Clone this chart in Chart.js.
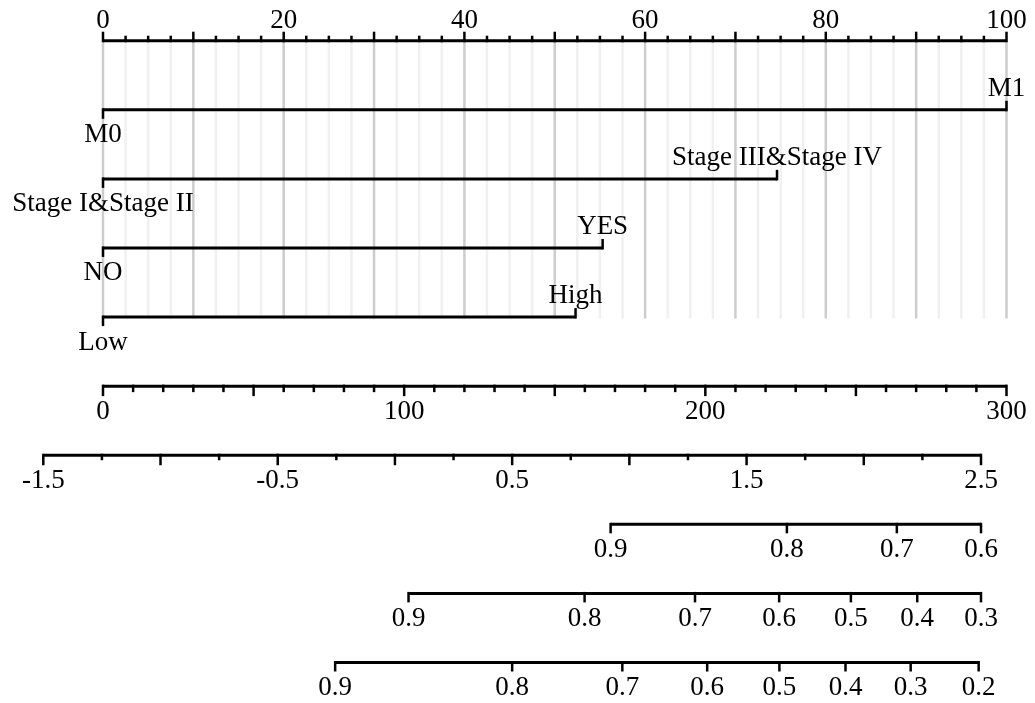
<!DOCTYPE html>
<html><head><meta charset="utf-8">
<script src="https://cdn.jsdelivr.net/npm/chart.js@4.4.0/dist/chart.umd.min.js"></script>
<style>html,body{margin:0;padding:0;background:#fff;overflow:hidden}canvas{display:block}</style>
</head><body>
<canvas id="c" width="1035" height="703"></canvas>
<script>
// ---- data ----
const pointsLabelValues = [0, 20, 40, 60, 80, 100];
const pointsLabels = ['0', '20', '40', '60', '80', '100'];
const mLevels = ['M0', 'M1'];
const mPoints = [0, 100];
const stageLevels = ['Stage I&Stage II', 'Stage III&Stage IV'];
const stagePoints = [0, 74.6];
const lymphLevels = ['NO', 'YES'];
const lymphPoints = [0, 55.3];
const gradeLevels = ['Low', 'High'];
const gradePoints = [0, 52.3];
const totalPointsValues = [0, 100, 200, 300];
const totalPointsLabels = ['0', '100', '200', '300'];
const lpValues = [-1.5, -0.5, 0.5, 1.5, 2.5];
const lpLabels = ['-1.5', '-0.5', '0.5', '1.5', '2.5'];
const surv1Labels = ['0.9', '0.8', '0.7', '0.6'];
const surv1LP = [0.92, 1.672, 2.141, 2.5];
const surv2Labels = ['0.9', '0.8', '0.7', '0.6', '0.5', '0.4', '0.3'];
const surv2LP = [0.058, 0.809, 1.28, 1.639, 1.945, 2.228, 2.5];
const surv3Labels = ['0.9', '0.8', '0.7', '0.6', '0.5', '0.4', '0.3', '0.2'];
const surv3LP = [-0.255, 0.5, 0.97, 1.332, 1.64, 1.922, 2.2, 2.49];

// ---- layout ----
const W = 1035, H = 703;
const FONT = '27px "Liberation Serif", "Times New Roman", serif';
function span(v1, p1, v2, p2, size) {
  const k = (p2 - p1) / (v2 - v1);
  return { min: v1 - p1 / k, max: v1 + (size - p1) / k };
}
const ptsRange = span(0, 103, 100, 1006.5, W);
const totRange = span(0, 103, 300, 1006.5, W);
const lpRange = span(-1.5, 43.3, 2.5, 981, W);
const yRange = span(0, 40.7, 9, 662.5, H);

const rows = [
  { levels: mLevels, pts: mPoints, row: 1 },
  { levels: stageLevels, pts: stagePoints, row: 2 },
  { levels: lymphLevels, pts: lymphPoints, row: 3 },
  { levels: gradeLevels, pts: gradePoints, row: 4 }
];

function rowDataset(r) {
  return {
    data: r.pts.map(p => ({ x: p, y: r.row })),
    xAxisID: 'xPts', yAxisID: 'y',
    showLine: true, borderColor: '#000', borderWidth: 3,
    borderCapStyle: 'butt', pointRadius: 0, fill: false
  };
}

function stepValues(a, b, step) {
  const out = [];
  const n = Math.round((b - a) / step);
  for (let i = 0; i <= n; i++) out.push(a + i * step);
  return out;
}
function isMultiple(v, base, origin) {
  const q = (v - origin) / base;
  return Math.abs(q - Math.round(q)) < 1e-6;
}

const nomo = {
  id: 'nomo',
  beforeDatasetsDraw(chart) {
    const ctx = chart.ctx, xs = chart.scales.xPts, ys = chart.scales.y;
    const yTop = ys.getPixelForValue(0), yBot = ys.getPixelForValue(4) + 1.5;
    ctx.save();
    ctx.lineWidth = 2.5;
    stepValues(0, 100, 2.5).forEach(v => {
      const x = xs.getPixelForValue(v);
      ctx.strokeStyle = isMultiple(v, 10, 0) ? '#cdcdcd' : '#f0f0f0';
      ctx.beginPath(); ctx.moveTo(x, yTop); ctx.lineTo(x, yBot); ctx.stroke();
    });
    ctx.restore();
  },
  afterDatasetsDraw(chart) {
    const ctx = chart.ctx, ys = chart.scales.y;
    const sP = chart.scales.xPts, sT = chart.scales.xTot, sL = chart.scales.xLP;
    ctx.save();
    ctx.font = FONT; ctx.fillStyle = '#000'; ctx.strokeStyle = '#000';
    ctx.textAlign = 'center'; ctx.textBaseline = 'alphabetic';

    function axis(scale, row, a, b, ticks, labels, up) {
      const y = ys.getPixelForValue(row);
      const d = up ? -1 : 1;
      ctx.lineWidth = 3;
      ctx.beginPath(); ctx.moveTo(scale.getPixelForValue(a), y); ctx.lineTo(scale.getPixelForValue(b), y); ctx.stroke();
      ctx.lineWidth = 2.5;
      ticks.forEach(t => {
        const x = scale.getPixelForValue(t.v);
        ctx.beginPath(); ctx.moveTo(x, y - d * 1.5); ctx.lineTo(x, y + d * t.len); ctx.stroke();
      });
      labels.forEach(l => {
        const x = scale.getPixelForValue(l.v);
        ctx.fillText(l.text, x, up ? y - 13 : y + 32.5);
      });
    }

    // Points axis (top)
    axis(sP, 0, 0, 100,
      stepValues(0, 100, 2.5).map(v => ({ v, len: isMultiple(v, 10, 0) ? 9 : 5 })),
      pointsLabelValues.map((v, i) => ({ v, text: pointsLabels[i] })), true);

    // variable rows: end ticks and level labels
    rows.forEach(r => {
      const y = ys.getPixelForValue(r.row);
      ctx.lineWidth = 2.5;
      r.pts.forEach((p, i) => {
        const x = sP.getPixelForValue(p);
        const up = i > 0;
        const d = up ? -1 : 1;
        ctx.beginPath(); ctx.moveTo(x, y - d * 1.5); ctx.lineTo(x, y + d * 9); ctx.stroke();
        ctx.fillText(r.levels[i], x, up ? y - 14 : y + 32.5);
      });
    });

    // Total points
    axis(sT, 5, 0, 300,
      stepValues(0, 300, 10).map(v => ({ v, len: isMultiple(v, 50, 0) ? 10 : 6 })),
      totalPointsValues.map((v, i) => ({ v, text: totalPointsLabels[i] })), false);

    // Linear predictor
    axis(sL, 6, -1.5, 2.5,
      stepValues(-1.5, 2.5, 0.25).map(v => ({ v, len: isMultiple(v, 0.5, -1.5) ? 10 : 5 })),
      lpValues.map((v, i) => ({ v, text: lpLabels[i] })), false);

    // Survival probability axes
    [[surv1LP, surv1Labels, 7], [surv2LP, surv2Labels, 8], [surv3LP, surv3Labels, 9]].forEach(([lp, lab, row]) => {
      axis(sL, row, lp[0], lp[lp.length - 1],
        lp.map(v => ({ v, len: 9 })),
        lp.map((v, i) => ({ v, text: lab[i] })), false);
    });
    ctx.restore();
  }
};

new Chart(document.getElementById('c'), {
  type: 'scatter',
  data: { datasets: rows.map(rowDataset) },
  options: {
    responsive: false, animation: false, devicePixelRatio: 1,
    events: [],
    layout: { padding: 0 },
    plugins: { legend: { display: false }, tooltip: { enabled: false } },
    scales: {
      xPts: { type: 'linear', axis: 'x', display: false, min: ptsRange.min, max: ptsRange.max },
      xTot: { type: 'linear', axis: 'x', display: false, min: totRange.min, max: totRange.max },
      xLP: { type: 'linear', axis: 'x', display: false, min: lpRange.min, max: lpRange.max },
      y: { type: 'linear', display: false, reverse: true, min: yRange.min, max: yRange.max }
    }
  },
  plugins: [nomo]
});
</script>
</body></html>
